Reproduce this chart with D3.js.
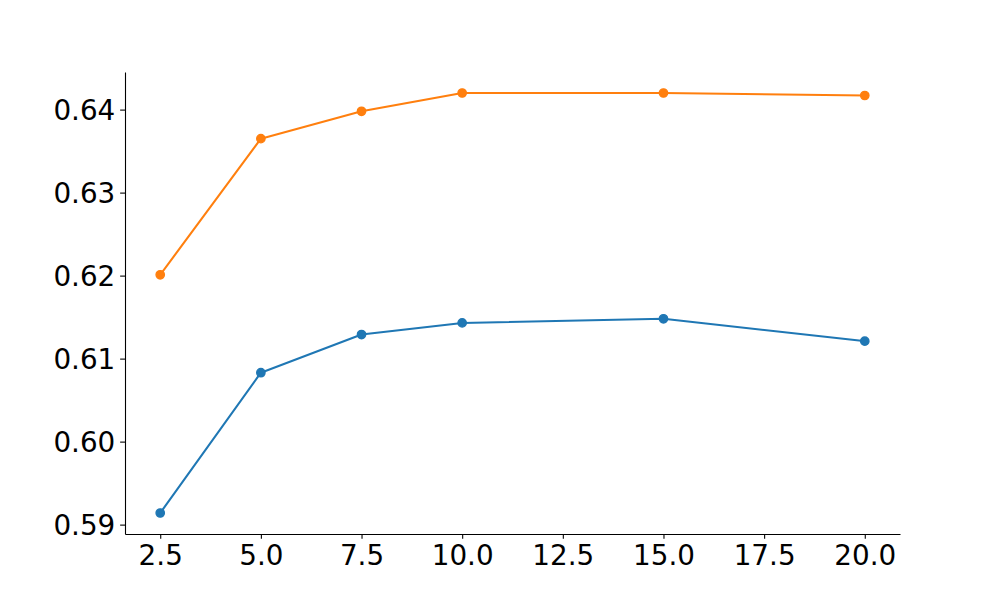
<!DOCTYPE html>
<html>
<head>
<meta charset="utf-8">
<script src="https://cdn.jsdelivr.net/npm/d3@7"></script>
<style>
  body { margin: 0; background: #fff; }
  svg { display: block; }
  .tick text { font-family: "DejaVu Sans", sans-serif; font-size: 27.8px; fill: #000; }
</style>
</head>
<body>
<svg id="chart" width="1000" height="600"></svg>
<script>
const xValues = [2.5, 5.0, 7.5, 10.0, 15.0, 20.0];
const seriesBlue = [0.5914, 0.6083, 0.6129, 0.6143, 0.6148, 0.6121];
const seriesOrange = [0.6201, 0.6365, 0.6398, 0.6420, 0.6420, 0.6417];
const xTicks = [2.5, 5.0, 7.5, 10.0, 12.5, 15.0, 17.5, 20.0];
const yTicks = [0.59, 0.60, 0.61, 0.62, 0.63, 0.64];
const colors = ["#1f77b4", "#ff7f0e"];

const plotLeft = 125, plotRight = 900, plotTop = 72, plotBottom = 534;

const xMin = d3.min(xValues), xMax = d3.max(xValues);
const xPad = (xMax - xMin) * 0.05;
const allY = seriesBlue.concat(seriesOrange);
const yMin = d3.min(allY), yMax = d3.max(allY);
const yPad = (yMax - yMin) * 0.05;

const x = d3.scaleLinear().domain([xMin - xPad, xMax + xPad]).range([plotLeft, plotRight]);
const y = d3.scaleLinear().domain([yMin - yPad, yMax + yPad]).range([plotBottom, plotTop]);

const svg = d3.select("#chart");
const tickLen = 4.86;

const gx = svg.append("g").attr("transform", `translate(0,${plotBottom})`)
  .call(d3.axisBottom(x).tickValues(xTicks).tickFormat(d3.format(".1f"))
    .tickSize(tickLen).tickSizeOuter(0).tickPadding(4.86));
const gy = svg.append("g").attr("transform", `translate(${plotLeft},0)`)
  .call(d3.axisLeft(y).tickValues(yTicks).tickFormat(d3.format(".2f"))
    .tickSize(tickLen).tickSizeOuter(0).tickPadding(4.86));

[gx, gy].forEach(g => {
  g.select(".domain").attr("stroke", "#000").attr("stroke-width", 1.1);
  g.selectAll(".tick line").attr("stroke", "#000").attr("stroke-width", 1.1);
  g.attr("font-size", null).attr("font-family", null);
});
gy.selectAll(".tick text").attr("dy", "0.36em");
gx.selectAll(".tick text").attr("dy", "0.76em");

const series = [seriesBlue, seriesOrange];
const line = d3.line().x((d, i) => x(xValues[i])).y(d => y(d));

series.forEach((s, k) => {
  svg.append("path").datum(s)
    .attr("fill", "none")
    .attr("stroke", colors[k])
    .attr("stroke-width", 2.08)
    .attr("stroke-linejoin", "round")
    .attr("stroke-linecap", "square")
    .attr("d", line);
  svg.append("g").selectAll("circle").data(s).join("circle")
    .attr("cx", (d, i) => x(xValues[i]))
    .attr("cy", d => y(d))
    .attr("r", 4.17)
    .attr("fill", colors[k])
    .attr("stroke", colors[k])
    .attr("stroke-width", 1.39);
});
</script>
</body>
</html>
